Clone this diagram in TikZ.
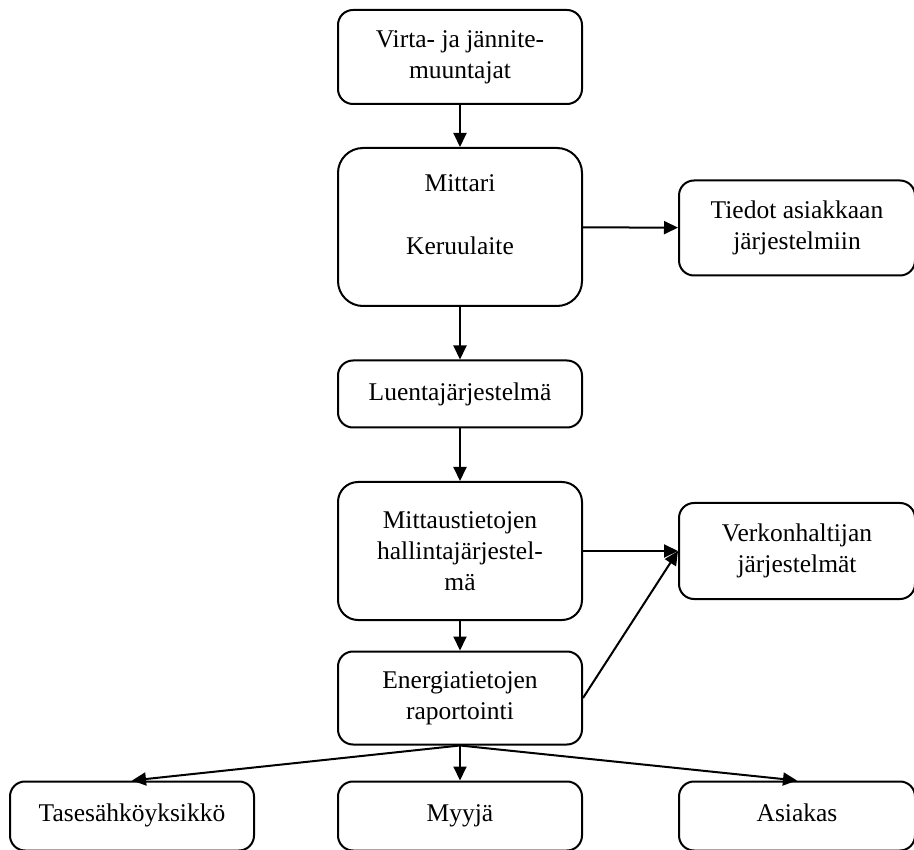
\documentclass[tikz,border=0pt]{standalone}
\usepackage{fontspec}
\setmainfont{Liberation Serif}
\usetikzlibrary{arrows.meta,positioning}

\begin{document}
\begin{tikzpicture}[
    x=1pt, y=-1pt,
    box/.style={draw, rounded corners=15pt, line width=2pt, minimum width=244pt, align=center, inner sep=2pt,
        font=\fontsize{25.5}{31}\selectfont},
    arrow/.style={-{Triangle[length=14pt,width=13pt]}, line width=2pt}
]
\useasboundingbox (0,0) rectangle (914,850);
\clip (0,0) rectangle (914,850);

\def\l{460}
\def\r{797}
\node[box, minimum height=94pt] (vm) at (\l, 57) {Virta- ja jännite-\\muuntajat};
\node[box, minimum height=158pt, rounded corners=25pt, text depth=24pt] (mk) at (\l, 227) {Mittari\\[32pt]Keruulaite};
\node[box, minimum width=236pt, minimum height=95pt] (ti) at (\r, 228) {Tiedot asiakkaan\\järjestelmiin};
\node[box, minimum height=67pt] (lu) at (\l, 394) {Luentajärjestelmä};
\node[box, minimum height=138pt, rounded corners=20pt] (mh) at (\l, 551) {Mittaustietojen\\hallintajärjestel-\\mä};
\node[box, minimum width=236pt, minimum height=96pt] (vh) at (\r, 551) {Verkonhaltijan\\järjestelmät};
\node[box, minimum height=93pt] (en) at (\l, 698) {Energiatietojen\\raportointi};
\node[box, minimum height=69pt, text height=17pt, text depth=7pt] (ta) at (132, 816) {Tasesähköyksikkö};
\node[box, minimum height=69pt, text height=17pt, text depth=7pt] (my) at (\l, 816) {Myyjä};
\node[box, minimum width=236pt, minimum height=69pt, text height=17pt, text depth=7pt] (as) at (\r, 816) {Asiakas};

\draw[arrow] (vm) -- (mk);
\draw[arrow] (mk) -- (ti);
\draw[arrow] (mk) -- (lu);
\draw[arrow] (lu) -- (mh);
\draw[arrow] (mh) -- (vh);
\draw[arrow] (mh) -- (en);
\draw[arrow] (en.east) -- (vh.west);
\draw[arrow] (en.south) -- (ta.north);
\draw[arrow] (en.south) -- (my.north);
\draw[arrow] (en.south) -- (as.north);
\end{tikzpicture}
\end{document}
